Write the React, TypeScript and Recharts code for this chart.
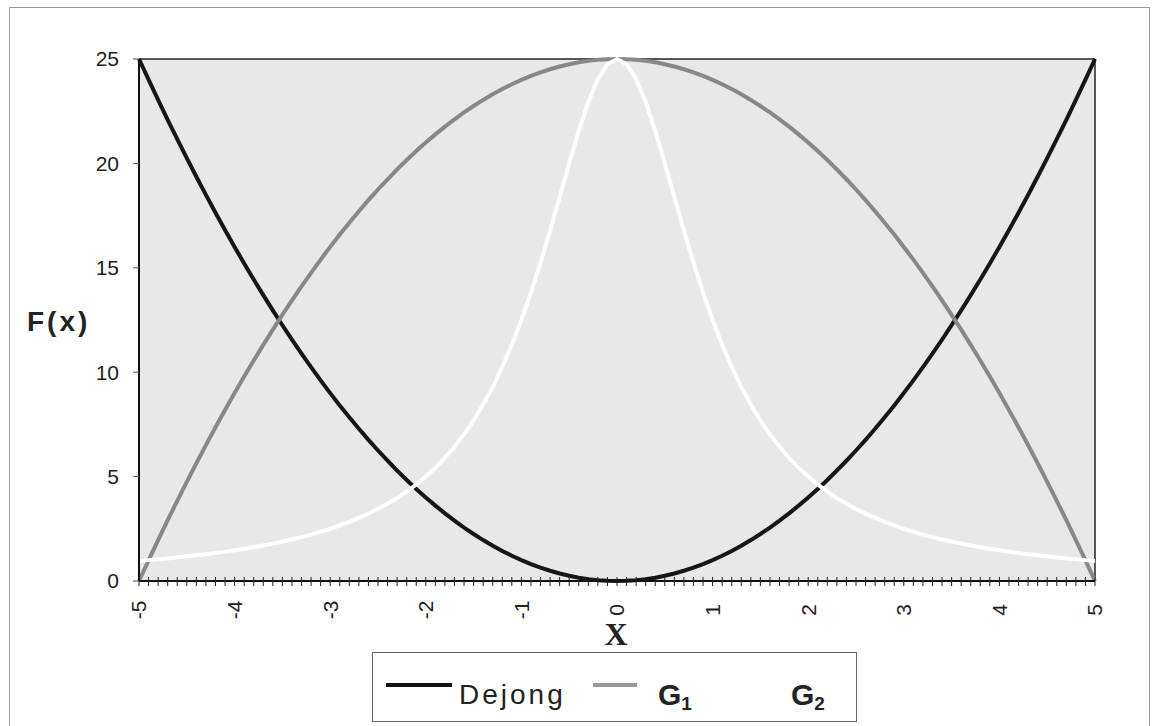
import React from "react";
import {
  LineChart,
  Line,
  XAxis,
  YAxis,
  CartesianGrid,
  ReferenceLine,
} from "recharts";

// x positions, one every 0.1 from -5 to 5
const xValues = [
  -5, -4.9, -4.8, -4.7, -4.6, -4.5, -4.4, -4.3, -4.2, -4.1,
  -4, -3.9, -3.8, -3.7, -3.6, -3.5, -3.4, -3.3, -3.2, -3.1,
  -3, -2.9, -2.8, -2.7, -2.6, -2.5, -2.4, -2.3, -2.2, -2.1,
  -2, -1.9, -1.8, -1.7, -1.6, -1.5, -1.4, -1.3, -1.2, -1.1,
  -1, -0.9, -0.8, -0.7, -0.6, -0.5, -0.4, -0.3, -0.2, -0.1,
  0, 0.1, 0.2, 0.3, 0.4, 0.5, 0.6, 0.7, 0.8, 0.9,
  1, 1.1, 1.2, 1.3, 1.4, 1.5, 1.6, 1.7, 1.8, 1.9,
  2, 2.1, 2.2, 2.3, 2.4, 2.5, 2.6, 2.7, 2.8, 2.9,
  3, 3.1, 3.2, 3.3, 3.4, 3.5, 3.6, 3.7, 3.8, 3.9,
  4, 4.1, 4.2, 4.3, 4.4, 4.5, 4.6, 4.7, 4.8, 4.9,
  5,
];

const dejong = [
  25, 24.01, 23.04, 22.09, 21.16, 20.25, 19.36, 18.49, 17.64, 16.81,
  16, 15.21, 14.44, 13.69, 12.96, 12.25, 11.56, 10.89, 10.24, 9.61,
  9, 8.41, 7.84, 7.29, 6.76, 6.25, 5.76, 5.29, 4.84, 4.41,
  4, 3.61, 3.24, 2.89, 2.56, 2.25, 1.96, 1.69, 1.44, 1.21,
  1, 0.81, 0.64, 0.49, 0.36, 0.25, 0.16, 0.09, 0.04, 0.01,
  0, 0.01, 0.04, 0.09, 0.16, 0.25, 0.36, 0.49, 0.64, 0.81,
  1, 1.21, 1.44, 1.69, 1.96, 2.25, 2.56, 2.89, 3.24, 3.61,
  4, 4.41, 4.84, 5.29, 5.76, 6.25, 6.76, 7.29, 7.84, 8.41,
  9, 9.61, 10.24, 10.89, 11.56, 12.25, 12.96, 13.69, 14.44, 15.21,
  16, 16.81, 17.64, 18.49, 19.36, 20.25, 21.16, 22.09, 23.04, 24.01,
  25,
];

const g1 = [
  0, 0.99, 1.96, 2.91, 3.84, 4.75, 5.64, 6.51, 7.36, 8.19,
  9, 9.79, 10.56, 11.31, 12.04, 12.75, 13.44, 14.11, 14.76, 15.39,
  16, 16.59, 17.16, 17.71, 18.24, 18.75, 19.24, 19.71, 20.16, 20.59,
  21, 21.39, 21.76, 22.11, 22.44, 22.75, 23.04, 23.31, 23.56, 23.79,
  24, 24.19, 24.36, 24.51, 24.64, 24.75, 24.84, 24.91, 24.96, 24.99,
  25, 24.99, 24.96, 24.91, 24.84, 24.75, 24.64, 24.51, 24.36, 24.19,
  24, 23.79, 23.56, 23.31, 23.04, 22.75, 22.44, 22.11, 21.76, 21.39,
  21, 20.59, 20.16, 19.71, 19.24, 18.75, 18.24, 17.71, 17.16, 16.59,
  16, 15.39, 14.76, 14.11, 13.44, 12.75, 12.04, 11.31, 10.56, 9.79,
  9, 8.19, 7.36, 6.51, 5.64, 4.75, 3.84, 2.91, 1.96, 0.99,
  0,
];

const g2 = [
  0.96, 1.0, 1.04, 1.08, 1.13, 1.18, 1.23, 1.28, 1.34, 1.4,
  1.47, 1.54, 1.62, 1.7, 1.79, 1.89, 1.99, 2.1, 2.22, 2.36,
  2.5, 2.66, 2.83, 3.02, 3.22, 3.45, 3.7, 3.97, 4.28, 4.62,
  5, 5.42, 5.9, 6.43, 7.02, 7.69, 8.45, 9.29, 10.25, 11.31,
  12.5, 13.81, 15.24, 16.78, 18.38, 20, 21.55, 22.94, 24.04, 24.75,
  25, 24.75, 24.04, 22.94, 21.55, 20, 18.38, 16.78, 15.24, 13.81,
  12.5, 11.31, 10.25, 9.29, 8.45, 7.69, 7.02, 6.43, 5.9, 5.42,
  5, 4.62, 4.28, 3.97, 3.7, 3.45, 3.22, 3.02, 2.83, 2.66,
  2.5, 2.36, 2.22, 2.1, 1.99, 1.89, 1.79, 1.7, 1.62, 1.54,
  1.47, 1.4, 1.34, 1.28, 1.23, 1.18, 1.13, 1.08, 1.04, 1.0,
  0.96,
];

const xLabels = [-5, -4, -3, -2, -1, 0, 1, 2, 3, 4, 5];
const yTicks = [0, 5, 10, 15, 20, 25];

const data = xValues.map((x, i) => ({
  x,
  dejong: dejong[i],
  g1: g1[i],
  g2: g2[i],
}));

const FONT = "Arial, 'Liberation Sans', sans-serif";

// every 0.1 gets a small cross tick; whole numbers also get a rotated label
function XTick(props: any) {
  const { x, y, payload } = props;
  const v = payload.value;
  const labelled = xLabels.includes(v);
  const ly = y + 29;
  return (
    <g>
      <line x1={x} x2={x} y1={y - 4} y2={y + 5} stroke="#222" strokeWidth={1} />
      {labelled && (
        <text
          x={x}
          y={ly}
          transform={`rotate(-90 ${x} ${ly})`}
          textAnchor="middle"
          dy="0.35em"
          fontSize={21}
          fontFamily={FONT}
          fill="#222"
        >
          {v}
        </text>
      )}
    </g>
  );
}

function LegendBox() {
  return (
    <svg
      width={485}
      height={70}
      style={{
        position: "absolute",
        left: 372,
        top: 652,
        border: "1px solid #666",
        background: "#fff",
        boxSizing: "border-box",
      }}
    >
      <line x1={13} x2={79} y1={32} y2={32} stroke="#111" strokeWidth={4} />
      <text x={86} y={51} fontSize={28} fontFamily={FONT} letterSpacing={3} fill="#222">
        Dejong
      </text>
      <line x1={220} x2={264} y1={32} y2={32} stroke="#999" strokeWidth={4} />
      <text x={285} y={52} fontSize={30} fontWeight="bold" fontFamily={FONT} fill="#222">
        G
        <tspan fontSize={19} dy={5}>
          1
        </tspan>
      </text>
      <line x1={350} x2={394} y1={32} y2={32} stroke="#fff" strokeWidth={4} />
      <text x={418} y={52} fontSize={30} fontWeight="bold" fontFamily={FONT} fill="#222">
        G
        <tspan fontSize={19} dy={5}>
          2
        </tspan>
      </text>
    </svg>
  );
}

export default function App() {
  return (
    <div
      style={{
        position: "absolute",
        left: 0,
        top: 0,
        width: 1160,
        height: 726,
        background: "#fff",
        overflow: "hidden",
      }}
    >
      {/* outer chart frame */}
      <div
        style={{
          position: "absolute",
          left: 9,
          top: 7,
          width: 1141,
          height: 740,
          border: "1px solid #999",
          boxSizing: "border-box",
        }}
      />
      <LineChart
        width={1160}
        height={726}
        data={data}
        margin={{ top: 59, right: 65, bottom: 105, left: 79 }}
        style={{ position: "absolute", left: 0, top: 0 }}
      >
        <CartesianGrid fill="#e8e8e8" horizontal={false} vertical={false} />
        <XAxis
          type="number"
          dataKey="x"
          domain={[-5, 5]}
          ticks={xValues}
          interval={0}
          height={40}
          tickSize={0}
          tickMargin={0}
          tickLine={false}
          tick={<XTick />}
          axisLine={{ stroke: "#111", strokeWidth: 2 }}
        />
        <YAxis
          type="number"
          domain={[0, 25]}
          ticks={yTicks}
          interval={0}
          width={60}
          tickSize={6}
          tickMargin={14}
          tickLine={{ stroke: "#555" }}
          axisLine={{ stroke: "#111", strokeWidth: 2 }}
          tick={{ fontSize: 21, fontFamily: FONT, fill: "#222" }}
        />
        <ReferenceLine y={25} stroke="#2a1f1f" strokeWidth={1.5} />
        <ReferenceLine x={5} stroke="#2a1f1f" strokeWidth={1.5} />
        <Line
          type="linear"
          dataKey="dejong"
          stroke="#161616"
          strokeWidth={4}
          dot={false}
          isAnimationActive={false}
        />
        <Line
          type="linear"
          dataKey="g1"
          stroke="#888888"
          strokeWidth={4}
          dot={false}
          isAnimationActive={false}
        />
        <Line
          type="linear"
          dataKey="g2"
          stroke="#ffffff"
          strokeWidth={4}
          dot={false}
          isAnimationActive={false}
        />
      </LineChart>
      {/* axis titles */}
      <div
        style={{
          position: "absolute",
          left: 27,
          top: 302,
          fontFamily: FONT,
          fontWeight: "bold",
          fontSize: 28,
          letterSpacing: 3,
          color: "#222",
          lineHeight: "40px",
        }}
      >
        F(x)
      </div>
      <div
        style={{
          position: "absolute",
          left: 596,
          top: 614,
          width: 40,
          textAlign: "center",
          fontFamily: "'Liberation Serif', 'Times New Roman', serif",
          fontWeight: "bold",
          fontSize: 32,
          color: "#222",
          lineHeight: "40px",
        }}
      >
        X
      </div>
      <LegendBox />
    </div>
  );
}
